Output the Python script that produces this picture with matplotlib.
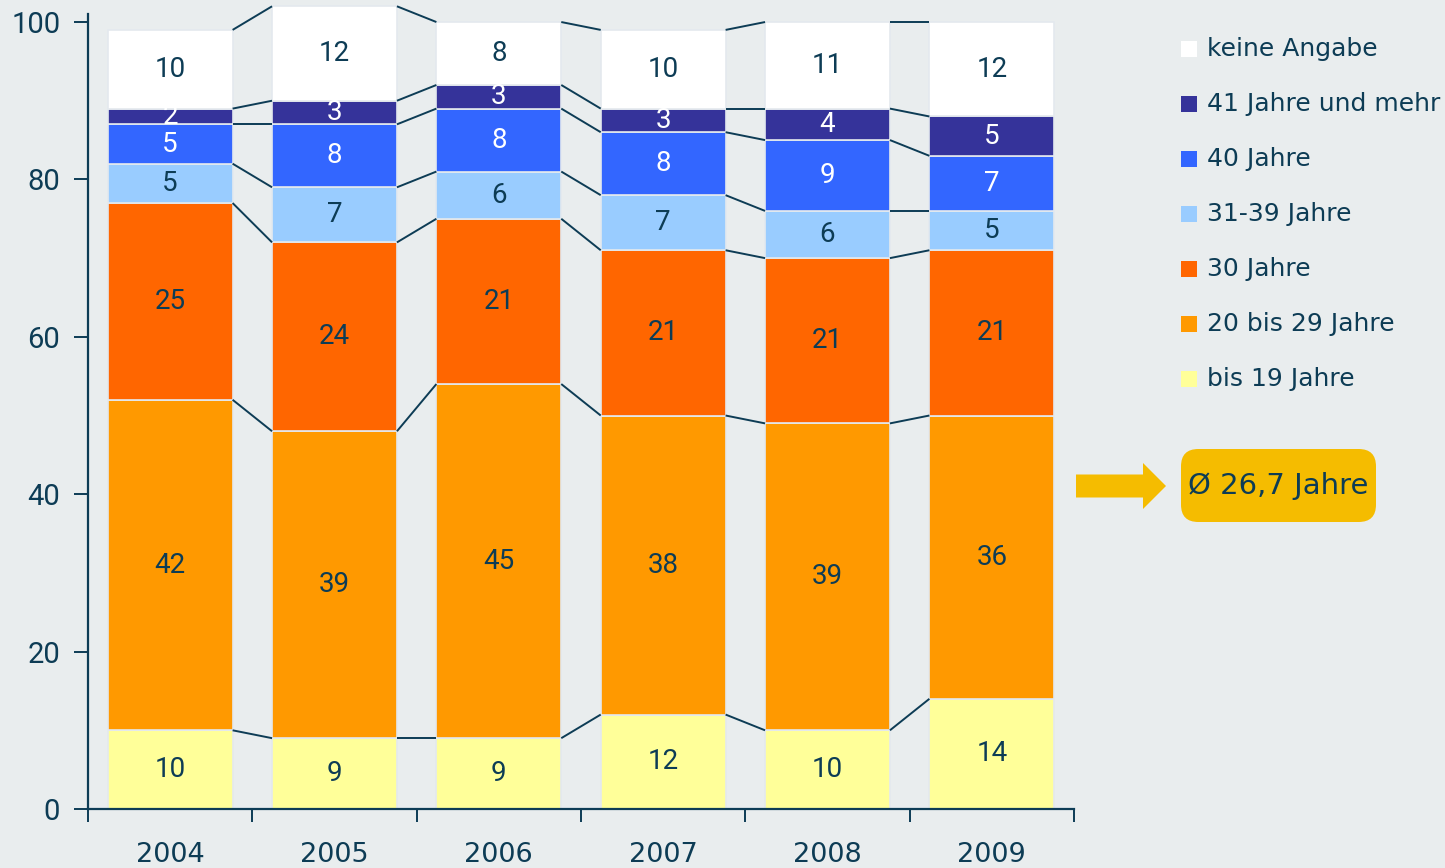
import matplotlib.pyplot as plt
import numpy as np
from matplotlib.patches import Rectangle, FancyBboxPatch, FancyArrow

plt.rcParams["font.family"] = ["Roboto", "DejaVu Sans"]

years = ["2004", "2005", "2006", "2007", "2008", "2009"]
series = ["bis 19 Jahre", "20 bis 29 Jahre", "30 Jahre", "31-39 Jahre",
          "40 Jahre", "41 Jahre und mehr", "keine Angabe"]
bis19 = [10, 9, 9, 12, 10, 14]
j20_29 = [42, 39, 45, 38, 39, 36]
j30 = [25, 24, 21, 21, 21, 21]
j31_39 = [5, 7, 6, 7, 6, 5]
j40 = [5, 8, 8, 8, 9, 7]
j41plus = [2, 3, 3, 3, 4, 5]
keine = [10, 12, 8, 10, 11, 12]
average_label = "Ø 26,7 Jahre"

colors = ["#ffff99", "#ff9900", "#ff6600", "#99ccff", "#3366ff", "#35339a", "#ffffff"]
text_colors = ["#0d3c55", "#0d3c55", "#0d3c55", "#0d3c55", "white", "white", "#0d3c55"]
navy = "#0d3c55"
bg = "#e9edee"
wide = ["DejaVu Sans"]

data = np.array([bis19, j20_29, j30, j31_39, j40, j41plus, keine], dtype=float)
x = np.arange(len(years))
w = 0.76

fig = plt.figure(figsize=(14.45, 8.68), dpi=100, facecolor=bg)
ax = fig.add_axes([88 / 1445, 59 / 868, (1074 - 88) / 1445, 809 / 868])
ax.set_facecolor(bg)

bottom = np.zeros(len(years))
for k in range(len(series)):
    ax.bar(x, data[k], w, bottom=bottom, color=colors[k], edgecolor="#e4e9ee",
           linewidth=1.2, zorder=2)
    for i in range(len(years)):
        ax.text(x[i], bottom[i] + data[k][i] / 2, f"{int(data[k][i])}",
                ha="center", va="center", fontsize=20, color=text_colors[k], zorder=4)
    bottom = bottom + data[k]

# connector lines between bars
cum = np.cumsum(data, axis=0)
for k in range(len(series)):
    for i in range(len(years) - 1):
        ax.plot([x[i] + w / 2, x[i + 1] - w / 2], [cum[k][i], cum[k][i + 1]],
                color=navy, lw=1.4, zorder=3, solid_capstyle="butt")

ax.set_xlim(-0.5, len(years) - 0.5)
ax.set_ylim(0, 102.8)
ax.set_yticks([0, 20, 40, 60, 80, 100])
ax.set_xticks(x)
ax.set_xticklabels(years, family=wide)
ax.set_xticks(np.arange(-0.5, len(years)), minor=True)
ax.tick_params(axis="x", which="major", length=0, pad=24, labelsize=19.5, labelcolor=navy)
ax.tick_params(axis="x", which="minor", length=9, width=1.4, color=navy, direction="out")
ax.tick_params(axis="y", length=10, width=1.4, color=navy, labelsize=21,
               labelcolor=navy, pad=10)
for s in ["top", "right"]:
    ax.spines[s].set_visible(False)
for s in ["left", "bottom"]:
    ax.spines[s].set_color(navy)
    ax.spines[s].set_linewidth(1.6)
ax.spines["left"].set_bounds(0, 101)

# legend drawn by hand, top entry first
W, H = 1445, 868
for j, k in enumerate(range(len(series) - 1, -1, -1)):
    yc = 49 + 55 * j
    fig.patches.append(Rectangle((1181 / W, 1 - (yc + 8) / H), 16 / W, 16 / H,
                                 transform=fig.transFigure, facecolor=colors[k],
                                 edgecolor="none"))
    fig.text(1207 / W, 1 - yc / H, series[k], ha="left", va="center",
             fontsize=18, color=navy, family=wide)

# average box and arrow
fig.patches.append(FancyBboxPatch((1181 / W, 1 - 522 / H), 195 / W, 73 / H,
                                  boxstyle="round,pad=0,rounding_size=0.012",
                                  transform=fig.transFigure, facecolor="#f5bc00",
                                  edgecolor="none", mutation_aspect=W / H))
fig.text(1278 / W, 1 - 486 / H, average_label, ha="center", va="center",
         fontsize=21, color=navy, family=wide)
fig.patches.append(FancyArrow(1076 / W, 1 - 486 / H, 90 / W, 0,
                              width=23 / H, head_width=46 / H, head_length=23 / W,
                              length_includes_head=True, transform=fig.transFigure,
                              facecolor="#f5bc00", edgecolor="none"))

fig.savefig("out.png", dpi=100, facecolor=bg)
